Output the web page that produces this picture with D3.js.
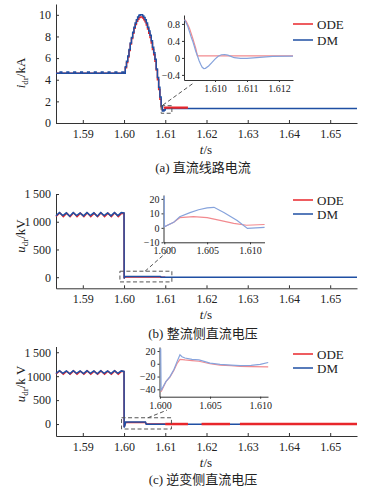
<!DOCTYPE html>
<html><head><meta charset="utf-8">
<script src="https://cdn.jsdelivr.net/npm/d3@7"></script>
<style>
html,body{margin:0;padding:0;background:#fff;}
svg{display:block;}
text{font-family:"Liberation Serif","Times New Roman",serif;fill:#222;}
.cap{font-family:"Liberation Serif","Noto Sans CJK SC",serif;}
</style></head>
<body>
<svg id="c" width="365" height="489"></svg>
<script>
// ---------- shared ----------
const xDomainMain = [1.5835, 1.6565];
const xTicksMain = [1.59, 1.60, 1.61, 1.62, 1.63, 1.64, 1.65];
const xTickLabelsMain = ["1.59", "1.60", "1.61", "1.62", "1.63", "1.64", "1.65"];
const legendLabels = ["ODE", "DM"];
const captions = ["(a) 直流线路电流", "(b) 整流侧直流电压", "(c) 逆变侧直流电压"];

// ---------- panel (a): DC line current (kA) ----------
const aYTicks = [0, 2, 4, 6, 8, 10];
const aYTickLabels = ["0", "2", "4", "6", "8", "10"];
const aDM = [[1.5835,4.6],[1.5845,4.72],[1.5849,4.6],[1.58617,4.72],[1.58657,4.6],[1.58783,4.72],[1.58823,4.6],
  [1.5895,4.72],[1.5899,4.6],[1.59117,4.72],[1.59157,4.6],[1.59283,4.72],[1.59323,4.6],[1.5945,4.72],[1.5949,4.6],
  [1.59617,4.72],[1.59657,4.6],[1.59783,4.72],[1.59823,4.6],[1.5995,4.72],[1.5999,4.6],
  [1.6000,4.6],[1.6003,5.2],[1.6006,5.7],[1.6009,6.2],[1.6012,6.8],[1.6015,7.4],[1.6018,7.9],[1.6021,8.4],
  [1.6024,8.85],[1.6027,9.25],[1.6030,9.55],[1.6033,9.8],[1.6036,9.95],[1.6039,10.0],[1.6042,10.0],[1.6045,9.9],
  [1.6048,9.75],[1.6051,9.55],[1.6054,9.25],[1.6057,8.85],[1.6060,8.5],[1.6063,8.1],[1.6066,7.6],[1.6069,7.0],
  [1.6072,6.5],[1.6075,5.9],[1.6078,5.0],[1.6081,4.2],[1.6084,3.3],[1.6087,2.4],[1.6090,1.6],[1.6093,1.1],
  [1.6097,1.2],[1.6100,1.33],[1.6565,1.33]];
const aODE = [[1.5835,4.6],[1.6000,4.6],[1.6003,5.1],[1.6006,5.6],[1.6009,6.1],[1.6012,6.7],[1.6015,7.3],[1.6018,7.8],
  [1.6021,8.3],[1.6024,8.75],[1.6027,9.1],[1.6030,9.4],[1.6033,9.6],[1.6036,9.75],[1.6039,9.8],[1.6042,9.8],
  [1.6045,9.7],[1.6048,9.55],[1.6051,9.35],[1.6054,9.05],[1.6057,8.7],[1.6060,8.3],[1.6063,7.9],[1.6066,7.4],
  [1.6069,6.8],[1.6072,6.3],[1.6075,5.7],[1.6078,4.9],[1.6081,4.0],[1.6084,3.1],[1.6087,2.2],[1.6090,1.5],
  [1.6093,1.2],[1.6097,1.3]];
const aODETail = [[1.6097,1.38],[1.6100,1.43],[1.6155,1.43]];
const aZoomBox = [1.6090, 1.6116, 0.9, 1.6];
const aInsetXTicks = [1.610, 1.611, 1.612];
const aInsetXLabels = ["1.610", "1.611", "1.612"];
const aInsetYTicks = [0.8, 0.4, 0, -0.4];
const aInsetYLabels = ["0.8", "0.4", "0", "\u22120.4"];
const aInsetDM = [[1.60905,0.9],[1.6091,0.82],[1.60915,0.74],[1.6092,0.62],[1.60925,0.5],[1.6093,0.4],[1.60935,0.28],
  [1.6094,0.15],[1.60945,0.05],[1.6095,-0.06],[1.60955,-0.15],[1.6096,-0.22],[1.60965,-0.25],[1.6097,-0.245],
  [1.6098,-0.19],[1.6099,-0.11],[1.6100,-0.03],[1.6101,0.04],[1.6102,0.075],[1.6103,0.08],[1.6104,0.065],
  [1.6105,0.035],[1.6106,0.005],[1.6108,-0.01],[1.6110,-0.01],[1.6112,0.0],[1.6115,0.02],[1.6118,0.035],[1.61244,0.04]];
const aInsetODE = [[1.60905,0.9],[1.6091,0.86],[1.6092,0.7],[1.6093,0.47],[1.6094,0.22],[1.60945,0.05],[1.61244,0.05]];

// ---------- panel (b): rectifier DC voltage (kV) ----------
const bYTicks = [0, 500, 1000, 1500];
const bYTickLabels = ["0", "500", "1\u2009000", "1\u2009500"];
const bDM = [[1.5835,1105],[1.58433,1165],[1.58517,1110],[1.5860,1160],[1.58683,1100],[1.58767,1165],[1.5885,1110],
  [1.58933,1160],[1.59017,1105],[1.5910,1165],[1.59183,1110],[1.59267,1160],[1.5935,1100],[1.59433,1165],[1.59517,1110],
  [1.5960,1160],[1.59683,1105],[1.59767,1165],[1.5985,1110],[1.59933,1165],[1.6000,1160],
  [1.60003,-25],[1.6002,12],[1.6088,12],[1.6090,0],[1.6565,0]];
const bODE = [[1.5835,1095],[1.58443,1160],[1.58527,1090],[1.5861,1155],[1.58693,1092],[1.58777,1160],[1.5886,1090],
  [1.58943,1155],[1.59027,1092],[1.5911,1160],[1.59193,1090],[1.59277,1155],[1.5936,1092],[1.59443,1160],[1.59527,1090],
  [1.5961,1155],[1.59693,1092],[1.59777,1160],[1.5986,1090],[1.59943,1155],[1.6000,1150],
  [1.60003,-20],[1.6002,5],[1.6088,5],[1.6090,0],[1.6100,0]];
const bZoomBox = [1.5990, 1.6116, -85, 108];
const bInsetXTicks = [1.600, 1.605, 1.610];
const bInsetXLabels = ["1.600", "1.605", "1.610"];
const bInsetYTicks = [20, 10, 0, -10];
const bInsetYLabels = ["20", "10", "0", "\u221210"];
const bInsetDM = [[1.6000,22],[1.60001,0.7],[1.6011,3.8],[1.6018,7.7],[1.6030,10.5],[1.6040,12.5],[1.6050,13.8],
  [1.6058,14.2],[1.6070,10.5],[1.6085,5],[1.6097,-0.4],[1.6117,0.3]];
const bInsetODE = [[1.60001,0.7],[1.6011,3.8],[1.6018,7.0],[1.6034,7.7],[1.6050,7.0],[1.6065,5.2],[1.6081,3.1],
  [1.6096,1.8],[1.6117,2.3]];

// ---------- panel (c): inverter DC voltage (kV) ----------
const cYTicks = [0, 500, 1000, 1500];
const cYTickLabels = ["0", "500", "1000", "1\u2009500"];
const cDM = [[1.5835,1055],[1.58433,1115],[1.58517,1060],[1.5860,1110],[1.58683,1050],[1.58767,1115],[1.5885,1060],
  [1.58933,1110],[1.59017,1055],[1.5910,1115],[1.59183,1060],[1.59267,1110],[1.5935,1050],[1.59433,1115],[1.59517,1060],
  [1.5960,1110],[1.59683,1055],[1.59767,1115],[1.5985,1060],[1.59933,1110],[1.6000,1100],
  [1.60003,-70],[1.6002,-30],[1.6004,40],[1.6052,40],[1.6054,-5],[1.6565,-5]];
const cODE = [[1.5835,1045],[1.58443,1110],[1.58527,1040],[1.5861,1105],[1.58693,1042],[1.58777,1110],[1.5886,1040],
  [1.58943,1105],[1.59027,1042],[1.5911,1110],[1.59193,1040],[1.59277,1105],[1.5936,1042],[1.59443,1110],[1.59527,1040],
  [1.5961,1105],[1.59693,1042],[1.59777,1110],[1.5986,1040],[1.59943,1105],[1.6000,1095],
  [1.60003,-60],[1.6002,-20],[1.6004,30],[1.6052,30],[1.6054,0],[1.6100,0]];
const cODESegments = [[1.6100,1.6155,0],[1.6188,1.6257,0],[1.6281,1.6565,0]];
const cZoomBox = [1.5994, 1.6115, -104, 131];
const cInsetXTicks = [1.600, 1.605, 1.610];
const cInsetXLabels = ["1.600", "1.605", "1.610"];
const cInsetYTicks = [20, 0, -20, -40];
const cInsetYLabels = ["20", "0", "\u221220", "\u221240"];
const cInsetDM = [[1.60008,24],[1.60012,-42],[1.6006,-28],[1.6010,-20],[1.6014,-9],[1.6017,3],[1.6020,14],[1.6022,11],
  [1.6025,9],[1.6032,7],[1.6039,6],[1.6050,1],[1.6060,-1],[1.6071,-2],[1.6080,-3],[1.6091,-2.5],[1.6100,-1],[1.6108,2]];
const cInsetODE = [[1.60012,-44],[1.6006,-28],[1.6010,-21],[1.6014,-10],[1.6017,0],[1.6020,7],[1.6025,6],[1.6032,5],
  [1.6039,4],[1.6050,0],[1.6060,-2],[1.6071,-3],[1.6080,-4],[1.6091,-4.5],[1.6108,-5]];

// ---------- drawing ----------
const RED = "#e8262b", BLUE = "#1f4fa3", LRED = "#f28a8f", LBLUE = "#86a3dc", AX = "#333";
const svg = d3.select("#c");

const panels = [
  { yDomain:[0,11], yRange:[123,4], yTicks:aYTicks, yLabels:aYTickLabels, dm:aDM, ode:aODE, odeTail:aODETail, segs:null,
    curve:d3.curveStepAfter, box:aZoomBox, yl:{sym:"i",unit:"/kA",x:25,y:73}, tsY:154, capY:172, caption:captions[0],
    leg:[24,40],
    inset:{ xDom:[1.60903,1.61244], xR:[184,293], yDom:[-0.52,1.01], yR:[80,15], xt:aInsetXTicks, xl:aInsetXLabels,
      yt:aInsetYTicks, yl:aInsetYLabels, dm:aInsetDM, ode:aInsetODE },
    conn:{from:[1.6094,1.65], toInset:[1.60935,-0.58]} },
  { yDomain:[-200,1500], yRange:[288.3,194], yTicks:bYTicks, yLabels:bYTickLabels, dm:bDM, ode:bODE, odeTail:null, segs:null,
    curve:d3.curveLinear, box:bZoomBox, yl:{sym:"u",unit:"/kV",x:25,y:236}, tsY:319, capY:338, caption:captions[1],
    leg:[200,214],
    inset:{ xDom:[1.59991,1.61169], xR:[163.5,264.5], yDom:[-10,22.7], yR:[242.3,195], xt:bInsetXTicks, xl:bInsetXLabels,
      yt:bInsetYTicks, yl:bInsetYLabels, dm:bInsetDM, ode:bInsetODE },
    conn:{from:[1.6051,108], toMain:[1.6120,560]} },
  { yDomain:[-250,1620], yRange:[436,346.5], yTicks:cYTicks, yLabels:cYTickLabels, dm:cDM, ode:cODE, odeTail:null, segs:cODESegments,
    curve:d3.curveLinear, box:cZoomBox, yl:{sym:"u",unit:"/k V",x:25,y:384}, tsY:467, capY:484, caption:captions[2],
    leg:[354,368],
    inset:{ xDom:[1.59996,1.61078], xR:[159.5,268], yDom:[-51.6,26.3], yR:[396.7,347], xt:cInsetXTicks, xl:cInsetXLabels,
      yt:cInsetYTicks, yl:cInsetYLabels, dm:cInsetDM, ode:cInsetODE },
    conn:{from:[1.6058,131], toMain:[1.6104,290]} }
];

function styleAxis(g, fs){
  g.select(".domain").attr("stroke", AX).attr("stroke-width", 1);
  g.selectAll(".tick line").attr("stroke", AX);
  g.selectAll("text").attr("font-size", fs).attr("font-family", '"Liberation Serif", serif').attr("fill", "#222");
}

panels.forEach(p => {
  const g = svg.append("g");
  const x = d3.scaleLinear().domain(xDomainMain).range([56, 357]);
  const y = d3.scaleLinear().domain(p.yDomain).range(p.yRange);

  // axes
  const xa = g.append("g").attr("transform", `translate(0,${p.yRange[0]})`)
    .call(d3.axisBottom(x).tickValues(xTicksMain).tickFormat((d,i)=>xTickLabelsMain[i]).tickSizeInner(-3).tickSizeOuter(0).tickPadding(6));
  styleAxis(xa, 12);
  const ya = g.append("g").attr("transform", `translate(56,0)`)
    .call(d3.axisLeft(y).tickValues(p.yTicks).tickFormat((d,i)=>p.yLabels[i]).tickSizeInner(-3).tickSizeOuter(0).tickPadding(5));
  styleAxis(ya, 12);

  const line = d3.line().x(d=>x(d[0])).y(d=>y(d[1])).curve(p.curve);
  g.append("path").attr("d", line(p.ode)).attr("fill","none").attr("stroke",RED).attr("stroke-width",1.5);
  g.append("path").attr("d", line(p.dm)).attr("fill","none").attr("stroke",BLUE).attr("stroke-width",1.5);
  if (p.odeTail) g.append("path").attr("d", d3.line().x(d=>x(d[0])).y(d=>y(d[1]))(p.odeTail))
      .attr("fill","none").attr("stroke",RED).attr("stroke-width",2.2);
  if (p.segs) g.selectAll(".seg").data(p.segs).enter().append("line")
      .attr("x1",d=>x(d[0])).attr("x2",d=>x(d[1])).attr("y1",d=>y(d[2])).attr("y2",d=>y(d[2]))
      .attr("stroke",RED).attr("stroke-width",2.5);

  // zoom box
  const b = p.box;
  g.append("rect").attr("x",x(b[0])).attr("y",y(b[3])).attr("width",x(b[1])-x(b[0])).attr("height",y(b[2])-y(b[3]))
    .attr("fill","none").attr("stroke","#555").attr("stroke-width",1).attr("stroke-dasharray","4,2.5");

  // inset
  const I = p.inset;
  const ix = d3.scaleLinear().domain(I.xDom).range(I.xR);
  const iy = d3.scaleLinear().domain(I.yDom).range(I.yR);
  g.append("rect").attr("x",I.xR[0]).attr("y",I.yR[1]).attr("width",I.xR[1]-I.xR[0]).attr("height",I.yR[0]-I.yR[1]).attr("fill","#fff");
  const ixa = g.append("g").attr("transform",`translate(0,${I.yR[0]})`)
    .call(d3.axisBottom(ix).tickValues(I.xt).tickFormat((d,i)=>I.xl[i]).tickSizeInner(2).tickSizeOuter(0).tickPadding(3));
  styleAxis(ixa, 10);
  const iya = g.append("g").attr("transform",`translate(${I.xR[0]},0)`)
    .call(d3.axisLeft(iy).tickValues(I.yt).tickFormat((d,i)=>I.yl[i]).tickSizeInner(2).tickSizeOuter(0).tickPadding(2));
  styleAxis(iya, 10);
  const il = d3.line().x(d=>ix(d[0])).y(d=>iy(d[1]));
  g.append("path").attr("d", il(I.ode)).attr("fill","none").attr("stroke",LRED).attr("stroke-width",1.2);
  g.append("path").attr("d", il(I.dm)).attr("fill","none").attr("stroke",LBLUE).attr("stroke-width",1.2);

  // connector
  const fx = x(p.conn.from[0]), fy = y(p.conn.from[1]);
  let tx, ty;
  if (p.conn.toInset){ tx = ix(p.conn.toInset[0]); ty = iy(p.conn.toInset[1]); }
  else { tx = x(p.conn.toMain[0]); ty = y(p.conn.toMain[1]); }
  g.append("line").attr("x1",fx).attr("y1",fy).attr("x2",tx).attr("y2",ty)
    .attr("stroke","#555").attr("stroke-width",1).attr("stroke-dasharray","4,2.5");

  // legend
  legendLabels.forEach((lab,i)=>{
    const ly = p.leg[i];
    g.append("line").attr("x1",293).attr("x2",313).attr("y1",ly).attr("y2",ly).attr("stroke",i===0?RED:BLUE).attr("stroke-width",1.5);
    g.append("text").attr("x",317).attr("y",ly+4.5).attr("font-size",13).text(lab);
  });

  // y label
  const yt = g.append("text").attr("transform",`translate(${p.yl.x},${p.yl.y}) rotate(-90)`).attr("text-anchor","middle").attr("font-size",13);
  yt.append("tspan").attr("font-style","italic").text(p.yl.sym);
  yt.append("tspan").attr("font-size",9).attr("dy",3).text("dr");
  yt.append("tspan").attr("dy",-3).text(p.yl.unit);

  // x label
  const xt = g.append("text").attr("x",206).attr("y",p.tsY).attr("text-anchor","middle").attr("font-size",13);
  xt.append("tspan").attr("font-style","italic").text("t");
  xt.append("tspan").text("/s");

  // caption
  g.append("text").attr("class","cap").attr("x",203).attr("y",p.capY).attr("text-anchor","middle").attr("font-size",13).text(p.caption);
});
</script>
</body></html>
